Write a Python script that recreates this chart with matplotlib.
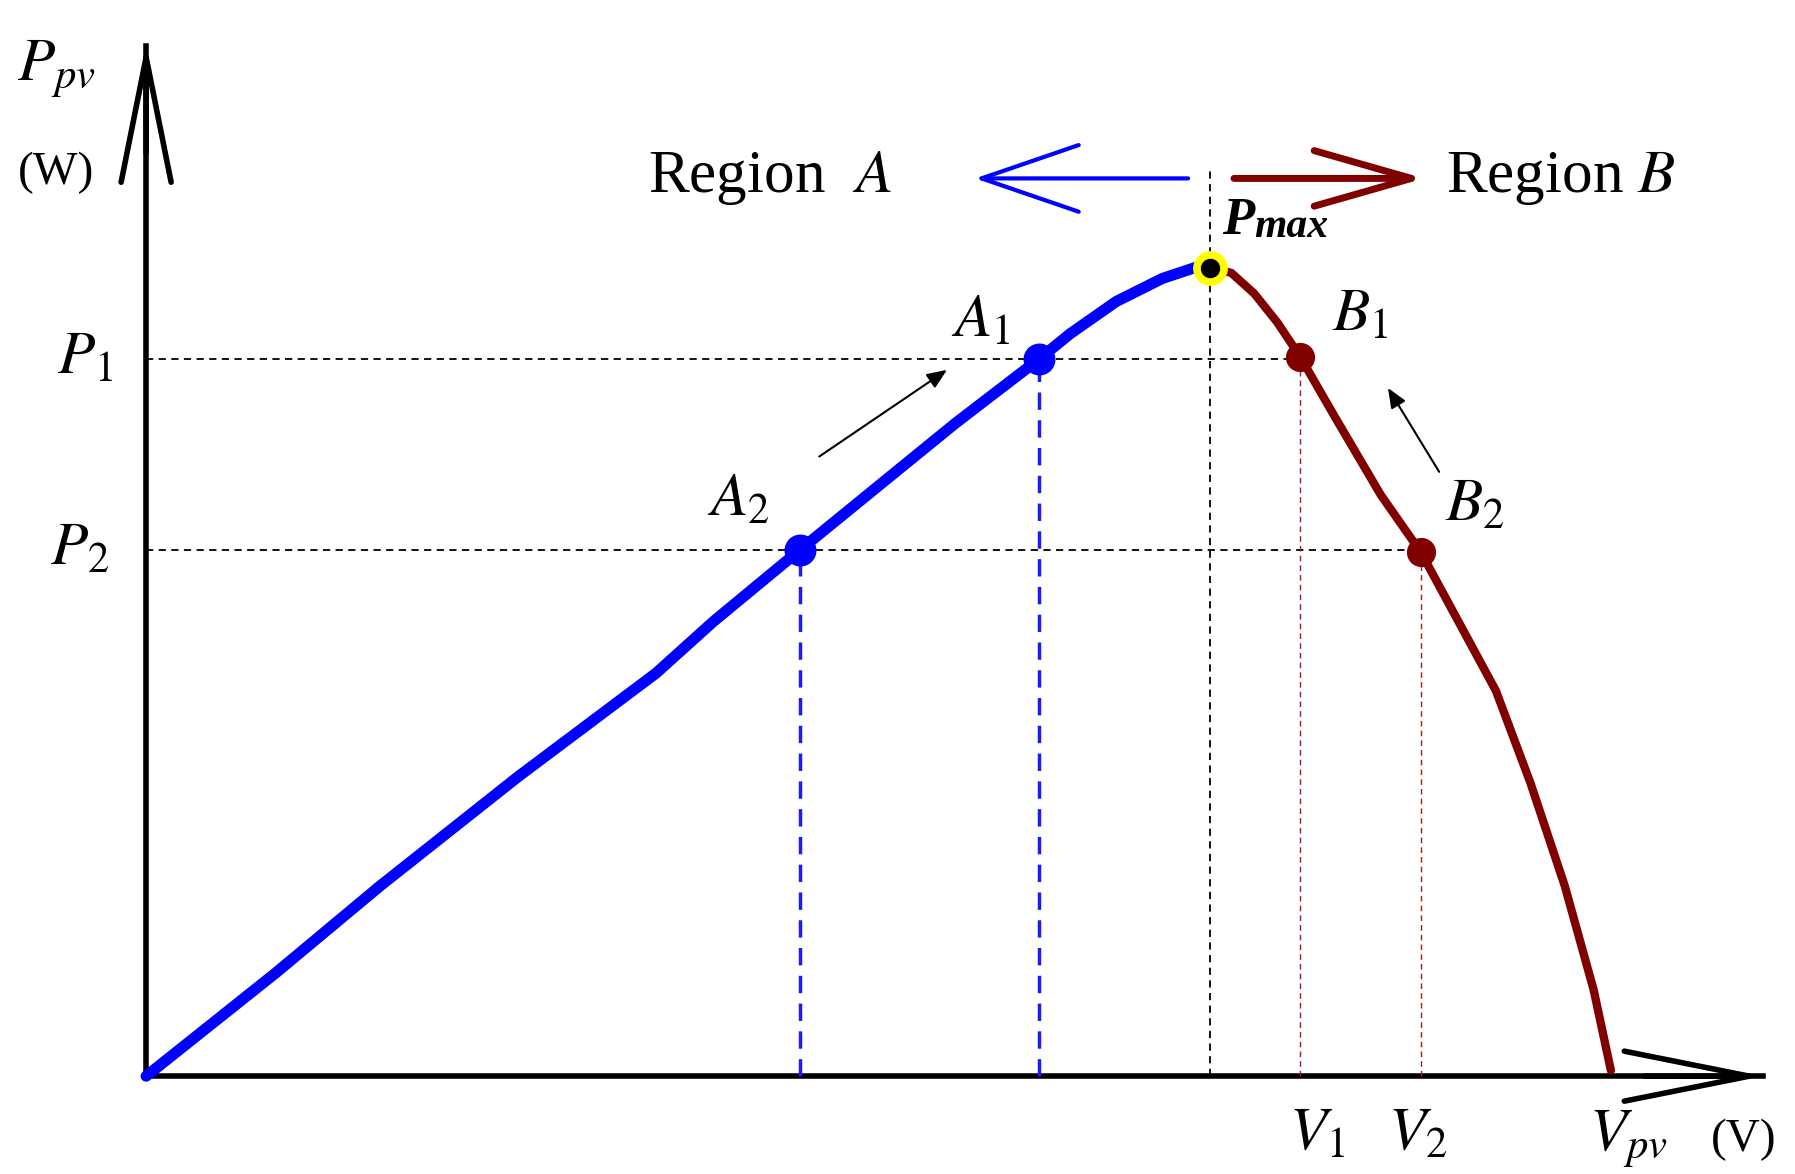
import matplotlib
matplotlib.use("Agg")
import matplotlib.pyplot as plt

plt.rcParams['font.family'] = ['Liberation Serif', 'DejaVu Serif']
plt.rcParams['mathtext.fontset'] = 'stix'

blue_v = [0, 11.3, 20.3, 32.3, 38.3, 44.3, 49.3, 56.8, 63.3, 70.3, 77.6, 80.3, 84.3, 88.3, 91.3, 92.5]
blue_p = [0, 9, 16.5, 26, 30.5, 35, 39.5, 45.7, 51, 56.7, 62.3, 64.5, 67.3, 69.3, 70.3, 70.2]
red_v = [92.5, 94.3, 96.3, 98.3, 100.3, 103.3, 107.3, 110.8, 117.3, 120.3, 123.3, 125.8, 127.3]
red_p = [70.2, 69.8, 68, 65.5, 62.5, 57.3, 50.5, 45.5, 33.5, 25.5, 16.5, 7.5, 0.5]
A1 = (77.6, 62.3); A2 = (56.8, 45.7)
B1 = (100.3, 62.5); B2 = (110.8, 45.5)
PM = (92.5, 70.2)

fig = plt.figure(figsize=(17.95, 11.74), dpi=100)
ax = fig.add_axes([0, 0, 1, 1])
ax.set_xlim(-12.7, 143.3)
ax.set_ylim(-8.5, 93.5)
ax.axis('off')

# axes arrows (open heads)
ax.plot([0, 0], [0, 89.5], color='k', lw=4)
ax.plot([0, 140.5], [0, 0], color='k', lw=4)
ax.annotate('', xy=(0, 90), xytext=(0, 80),
            arrowprops=dict(arrowstyle='->,head_length=4.5,head_width=0.9', lw=4, color='k', mutation_scale=20))
ax.annotate('', xy=(140.8, 0), xytext=(130, 0),
            arrowprops=dict(arrowstyle='->,head_length=4.5,head_width=0.9', lw=4, color='k', mutation_scale=20))

# guides
ax.plot([0, B1[0]], [A1[1], A1[1]], 'k--', lw=1.3, dashes=(4, 3))
ax.plot([0, B2[0]], [A2[1], A2[1]], 'k--', lw=1.3, dashes=(4, 3))
ax.plot([A1[0], A1[0]], [0, A1[1]], '--', color='#1a1aff', lw=2.5, dashes=(5, 3))
ax.plot([A2[0], A2[0]], [0, A2[1]], '--', color='#1a1aff', lw=2.5, dashes=(5, 3))
ax.plot([B1[0], B1[0]], [0, B1[1]], '--', color='#a02020', lw=1, dashes=(4, 3))
ax.plot([B2[0], B2[0]], [0, B2[1]], '--', color='#a02020', lw=1, dashes=(4, 3))
ax.plot([PM[0], PM[0]], [0, 79], 'k--', lw=1.3, dashes=(4, 3))

ax.plot(blue_v, blue_p, color='#0000ff', lw=8, solid_capstyle='round', solid_joinstyle='round', zorder=3)
ax.plot(red_v, red_p, color='#800000', lw=6, solid_capstyle='round', solid_joinstyle='round', zorder=3)
ax.plot(*A1, 'o', color='#0000ff', ms=22, zorder=4)
ax.plot(*A2, 'o', color='#0000ff', ms=22, zorder=4)
ax.plot(*B1, 'o', color='#800000', ms=20, zorder=4)
ax.plot(*B2, 'o', color='#800000', ms=20, zorder=4)
ax.plot(*PM, 'o', color='#ffff00', ms=24, zorder=4)
ax.plot(*PM, 'o', color='k', ms=13, zorder=5)

# region arrows
ax.annotate('', xy=(71.8, 78), xytext=(90.8, 78),
            arrowprops=dict(arrowstyle='->,head_length=3.5,head_width=1.2', lw=3, color='#0000ff', mutation_scale=20))
ax.annotate('', xy=(111.3, 78), xytext=(94.3, 78),
            arrowprops=dict(arrowstyle='->,head_length=3.5,head_width=1.0', lw=5, color='#800000', mutation_scale=20))
ax.annotate('', xy=(69.8, 61.5), xytext=(58.3, 53.7),
            arrowprops=dict(arrowstyle='-|>,head_length=1.2,head_width=0.5', lw=1.5, color='k'))
ax.annotate('', xy=(107.8, 60), xytext=(112.5, 52.3),
            arrowprops=dict(arrowstyle='-|>,head_length=1.2,head_width=0.5', lw=1.5, color='k'))

fs = 44
ax.text(43.6, 78, 'Region  $A$', fontsize=fs, va='center', ha='left')
ax.text(113, 78, 'Region $B$', fontsize=fs, va='center', ha='left')
ax.text(93.5, 74.3, 'P', fontsize=38, fontweight='bold', fontstyle='italic', va='center')
ax.text(96.3, 73.8, 'max', fontsize=30, fontweight='bold', fontstyle='italic', va='center')
ax.text(72.5, 65.5, '$A_1$', fontsize=fs, va='center', ha='center')
ax.text(51.5, 50, '$A_2$', fontsize=fs, va='center', ha='center')
ax.text(105.5, 66, '$B_1$', fontsize=fs, va='center', ha='center')
ax.text(115.5, 49.5, '$B_2$', fontsize=fs, va='center', ha='center')
ax.text(-5.3, 62.3, '$P_1$', fontsize=fs, va='center', ha='center')
ax.text(-5.8, 45.7, '$P_2$', fontsize=fs, va='center', ha='center')
ax.text(-7.8, 87.5, '$P_{pv}$', fontsize=fs, va='center', ha='center')
ax.text(-7.8, 78.5, '(W)', fontsize=34, va='center', ha='center')
ax.text(101.8, -5.1, '$V_1$', fontsize=fs, va='center', ha='center')
ax.text(110.5, -5.1, '$V_2$', fontsize=fs, va='center', ha='center')
ax.text(128.8, -5.5, '$V_{pv}$', fontsize=fs, va='center', ha='center')
ax.text(138.8, -5.5, '(V)', fontsize=34, va='center', ha='center')

fig.savefig('out.png', dpi=100)
